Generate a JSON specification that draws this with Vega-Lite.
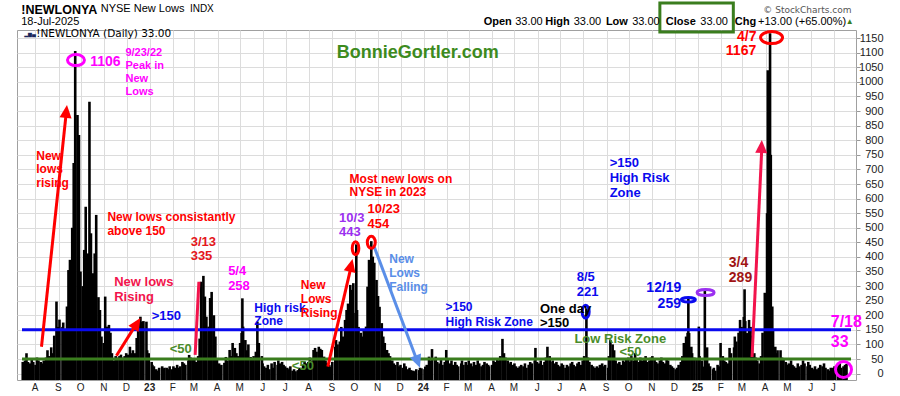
{
"$schema":"https://vega.github.io/schema/vega-lite/v6.json",
"width":839,"height":350,
"autosize":{"type":"none"},
"padding":{"left":17,"top":30,"right":44,"bottom":16},
"background":"white",
"config":{"view":{"stroke":"#a0a0a0","strokeWidth":1},"axis":{"labelFont":"Liberation Sans"}},
"datasets":{
"nl":[
{"d":"2022-07-15","v":40},{"d":"2022-07-18","v":45},{"d":"2022-07-20","v":70},{"d":"2022-07-22","v":40},
{"d":"2022-07-25","v":35},{"d":"2022-07-27","v":50},{"d":"2022-07-29","v":40},
{"d":"2022-08-01","v":30},{"d":"2022-08-03","v":55},{"d":"2022-08-05","v":45},
{"d":"2022-08-08","v":40},{"d":"2022-08-10","v":35},{"d":"2022-08-12","v":45},
{"d":"2022-08-15","v":55},{"d":"2022-08-17","v":80},{"d":"2022-08-19","v":60},
{"d":"2022-08-22","v":90},{"d":"2022-08-24","v":70},{"d":"2022-08-26","v":130},
{"d":"2022-08-29","v":247},{"d":"2022-08-31","v":160},{"d":"2022-09-02","v":185},
{"d":"2022-09-06","v":160},{"d":"2022-09-07","v":175},{"d":"2022-09-09","v":150},
{"d":"2022-09-12","v":230},{"d":"2022-09-14","v":355},{"d":"2022-09-16","v":390},
{"d":"2022-09-19","v":500},{"d":"2022-09-21","v":722},{"d":"2022-09-23","v":1106},
{"d":"2022-09-26","v":887},{"d":"2022-09-28","v":818},{"d":"2022-09-30","v":350},
{"d":"2022-10-03","v":300},{"d":"2022-10-05","v":424},{"d":"2022-10-07","v":572},
{"d":"2022-10-10","v":412},{"d":"2022-10-12","v":932},{"d":"2022-10-14","v":481},
{"d":"2022-10-17","v":344},{"d":"2022-10-19","v":412},{"d":"2022-10-21","v":544},
{"d":"2022-10-24","v":262},{"d":"2022-10-26","v":218},{"d":"2022-10-28","v":127},
{"d":"2022-10-31","v":105},{"d":"2022-11-02","v":264},{"d":"2022-11-04","v":161},
{"d":"2022-11-07","v":167},{"d":"2022-11-09","v":140},{"d":"2022-11-11","v":70},
{"d":"2022-11-14","v":45},{"d":"2022-11-16","v":60},{"d":"2022-11-18","v":55},
{"d":"2022-11-21","v":60},{"d":"2022-11-23","v":65},{"d":"2022-11-25","v":55},
{"d":"2022-11-28","v":60},{"d":"2022-11-30","v":70},{"d":"2022-12-02","v":65},
{"d":"2022-12-05","v":92},{"d":"2022-12-07","v":70},{"d":"2022-12-09","v":80},
{"d":"2022-12-12","v":70},{"d":"2022-12-14","v":122},{"d":"2022-12-16","v":173},
{"d":"2022-12-19","v":195},{"d":"2022-12-21","v":178},{"d":"2022-12-23","v":180},
{"d":"2022-12-27","v":178},{"d":"2022-12-28","v":80},{"d":"2022-12-30","v":70},
{"d":"2023-01-03","v":40},{"d":"2023-01-04","v":30},{"d":"2023-01-06","v":25},
{"d":"2023-01-09","v":15},{"d":"2023-01-11","v":10},{"d":"2023-01-13","v":20},
{"d":"2023-01-17","v":25},{"d":"2023-01-18","v":15},{"d":"2023-01-20","v":20},
{"d":"2023-01-23","v":20},{"d":"2023-01-25","v":15},{"d":"2023-01-27","v":25},
{"d":"2023-01-30","v":15},{"d":"2023-02-01","v":25},{"d":"2023-02-03","v":20},
{"d":"2023-02-06","v":30},{"d":"2023-02-08","v":20},{"d":"2023-02-10","v":25},
{"d":"2023-02-13","v":40},{"d":"2023-02-15","v":35},{"d":"2023-02-17","v":30},
{"d":"2023-02-21","v":45},{"d":"2023-02-22","v":64},{"d":"2023-02-24","v":55},
{"d":"2023-02-27","v":50},{"d":"2023-03-01","v":47},{"d":"2023-03-03","v":40},
{"d":"2023-03-06","v":60},{"d":"2023-03-08","v":120},{"d":"2023-03-10","v":315},
{"d":"2023-03-13","v":335},{"d":"2023-03-15","v":264},{"d":"2023-03-17","v":195},
{"d":"2023-03-20","v":161},{"d":"2023-03-22","v":259},{"d":"2023-03-24","v":280},
{"d":"2023-03-27","v":200},{"d":"2023-03-29","v":127},{"d":"2023-03-31","v":47},
{"d":"2023-04-03","v":35},{"d":"2023-04-05","v":25},{"d":"2023-04-06","v":30},
{"d":"2023-04-10","v":37},{"d":"2023-04-12","v":57},{"d":"2023-04-14","v":45},
{"d":"2023-04-17","v":81},{"d":"2023-04-19","v":60},{"d":"2023-04-21","v":105},
{"d":"2023-04-24","v":88},{"d":"2023-04-26","v":70},{"d":"2023-04-28","v":60},
{"d":"2023-05-01","v":105},{"d":"2023-05-03","v":139},{"d":"2023-05-04","v":258},{"d":"2023-05-05","v":161},
{"d":"2023-05-08","v":115},{"d":"2023-05-10","v":80},{"d":"2023-05-12","v":100},
{"d":"2023-05-15","v":57},{"d":"2023-05-17","v":47},{"d":"2023-05-19","v":60},
{"d":"2023-05-22","v":75},{"d":"2023-05-24","v":178},{"d":"2023-05-26","v":105},
{"d":"2023-05-30","v":60},{"d":"2023-05-31","v":35},{"d":"2023-06-02","v":25},
{"d":"2023-06-05","v":20},{"d":"2023-06-07","v":30},{"d":"2023-06-09","v":15},
{"d":"2023-06-12","v":35},{"d":"2023-06-14","v":20},{"d":"2023-06-16","v":40},
{"d":"2023-06-20","v":30},{"d":"2023-06-21","v":45},{"d":"2023-06-23","v":35},
{"d":"2023-06-26","v":40},{"d":"2023-06-28","v":30},{"d":"2023-06-30","v":25},
{"d":"2023-07-03","v":20},{"d":"2023-07-05","v":15},{"d":"2023-07-07","v":25},
{"d":"2023-07-10","v":10},{"d":"2023-07-12","v":15},{"d":"2023-07-14","v":8},
{"d":"2023-07-17","v":12},{"d":"2023-07-19","v":20},{"d":"2023-07-21","v":15},
{"d":"2023-07-24","v":30},{"d":"2023-07-26","v":40},{"d":"2023-07-28","v":35},
{"d":"2023-07-31","v":40},{"d":"2023-08-02","v":55},{"d":"2023-08-04","v":45},
{"d":"2023-08-07","v":81},{"d":"2023-08-09","v":88},{"d":"2023-08-11","v":75},
{"d":"2023-08-14","v":92},{"d":"2023-08-16","v":85},{"d":"2023-08-18","v":81},
{"d":"2023-08-21","v":58},{"d":"2023-08-23","v":45},{"d":"2023-08-25","v":35},
{"d":"2023-08-28","v":30},{"d":"2023-08-30","v":24},{"d":"2023-09-01","v":40},
{"d":"2023-09-05","v":92},{"d":"2023-09-06","v":115},{"d":"2023-09-08","v":100},
{"d":"2023-09-11","v":110},{"d":"2023-09-13","v":160},{"d":"2023-09-15","v":127},
{"d":"2023-09-18","v":184},{"d":"2023-09-20","v":218},{"d":"2023-09-22","v":240},
{"d":"2023-09-25","v":304},{"d":"2023-09-27","v":287},{"d":"2023-09-29","v":310},
{"d":"2023-10-02","v":208},{"d":"2023-10-03","v":443},{"d":"2023-10-04","v":218},{"d":"2023-10-06","v":160},
{"d":"2023-10-09","v":140},{"d":"2023-10-11","v":127},{"d":"2023-10-13","v":150},
{"d":"2023-10-16","v":161},{"d":"2023-10-18","v":298},{"d":"2023-10-20","v":390},
{"d":"2023-10-23","v":454},{"d":"2023-10-25","v":401},{"d":"2023-10-27","v":380},
{"d":"2023-10-30","v":321},{"d":"2023-11-01","v":266},{"d":"2023-11-03","v":229},
{"d":"2023-11-06","v":173},{"d":"2023-11-08","v":127},{"d":"2023-11-10","v":105},
{"d":"2023-11-13","v":81},{"d":"2023-11-15","v":70},{"d":"2023-11-17","v":60},
{"d":"2023-11-20","v":45},{"d":"2023-11-22","v":35},{"d":"2023-11-24","v":30},
{"d":"2023-11-27","v":40},{"d":"2023-11-29","v":25},{"d":"2023-12-01","v":30},
{"d":"2023-12-04","v":20},{"d":"2023-12-06","v":35},{"d":"2023-12-08","v":25},
{"d":"2023-12-11","v":15},{"d":"2023-12-13","v":20},{"d":"2023-12-15","v":12},
{"d":"2023-12-18","v":10},{"d":"2023-12-20","v":8},{"d":"2023-12-22","v":15},
{"d":"2023-12-26","v":12},{"d":"2023-12-27","v":20},{"d":"2023-12-29","v":18},
{"d":"2024-01-02","v":15},{"d":"2024-01-03","v":24},{"d":"2024-01-05","v":30},
{"d":"2024-01-08","v":58},{"d":"2024-01-10","v":45},{"d":"2024-01-12","v":84},
{"d":"2024-01-16","v":50},{"d":"2024-01-17","v":58},{"d":"2024-01-19","v":40},
{"d":"2024-01-22","v":35},{"d":"2024-01-24","v":47},{"d":"2024-01-26","v":30},
{"d":"2024-01-29","v":40},{"d":"2024-01-31","v":81},{"d":"2024-02-02","v":50},
{"d":"2024-02-05","v":35},{"d":"2024-02-07","v":45},{"d":"2024-02-09","v":30},
{"d":"2024-02-12","v":40},{"d":"2024-02-14","v":30},{"d":"2024-02-16","v":25},
{"d":"2024-02-20","v":35},{"d":"2024-02-21","v":45},{"d":"2024-02-23","v":30},
{"d":"2024-02-26","v":40},{"d":"2024-02-28","v":30},{"d":"2024-03-01","v":45},
{"d":"2024-03-04","v":35},{"d":"2024-03-06","v":25},{"d":"2024-03-08","v":40},
{"d":"2024-03-11","v":30},{"d":"2024-03-13","v":45},{"d":"2024-03-15","v":35},
{"d":"2024-03-18","v":25},{"d":"2024-03-20","v":30},{"d":"2024-03-22","v":40},
{"d":"2024-03-25","v":35},{"d":"2024-03-27","v":30},{"d":"2024-03-28","v":25},
{"d":"2024-04-01","v":30},{"d":"2024-04-03","v":45},{"d":"2024-04-05","v":40},
{"d":"2024-04-08","v":50},{"d":"2024-04-10","v":45},{"d":"2024-04-12","v":60},
{"d":"2024-04-15","v":119},{"d":"2024-04-17","v":70},{"d":"2024-04-19","v":55},
{"d":"2024-04-22","v":45},{"d":"2024-04-24","v":35},{"d":"2024-04-26","v":40},
{"d":"2024-04-29","v":30},{"d":"2024-05-01","v":35},{"d":"2024-05-03","v":25},
{"d":"2024-05-06","v":20},{"d":"2024-05-08","v":25},{"d":"2024-05-10","v":30},
{"d":"2024-05-13","v":25},{"d":"2024-05-15","v":35},{"d":"2024-05-17","v":20},
{"d":"2024-05-20","v":30},{"d":"2024-05-22","v":40},{"d":"2024-05-24","v":35},
{"d":"2024-05-28","v":45},{"d":"2024-05-29","v":88},{"d":"2024-05-31","v":40},
{"d":"2024-06-03","v":35},{"d":"2024-06-05","v":45},{"d":"2024-06-07","v":30},
{"d":"2024-06-10","v":40},{"d":"2024-06-12","v":55},{"d":"2024-06-14","v":92},
{"d":"2024-06-17","v":60},{"d":"2024-06-18","v":40},{"d":"2024-06-21","v":45},
{"d":"2024-06-24","v":35},{"d":"2024-06-26","v":40},{"d":"2024-06-28","v":30},
{"d":"2024-07-01","v":25},{"d":"2024-07-03","v":35},{"d":"2024-07-05","v":30},
{"d":"2024-07-08","v":20},{"d":"2024-07-10","v":30},{"d":"2024-07-12","v":25},
{"d":"2024-07-15","v":35},{"d":"2024-07-17","v":40},{"d":"2024-07-19","v":30},
{"d":"2024-07-22","v":25},{"d":"2024-07-24","v":35},{"d":"2024-07-26","v":40},
{"d":"2024-07-29","v":30},{"d":"2024-07-31","v":45},{"d":"2024-08-02","v":60},
{"d":"2024-08-05","v":221},{"d":"2024-08-07","v":55},{"d":"2024-08-09","v":40},
{"d":"2024-08-12","v":30},{"d":"2024-08-14","v":25},{"d":"2024-08-16","v":20},
{"d":"2024-08-19","v":25},{"d":"2024-08-21","v":20},{"d":"2024-08-23","v":30},
{"d":"2024-08-26","v":35},{"d":"2024-08-28","v":25},{"d":"2024-08-30","v":30},
{"d":"2024-09-03","v":20},{"d":"2024-09-04","v":60},{"d":"2024-09-06","v":115},
{"d":"2024-09-09","v":100},{"d":"2024-09-11","v":80},{"d":"2024-09-13","v":45},
{"d":"2024-09-16","v":35},{"d":"2024-09-18","v":40},{"d":"2024-09-20","v":30},
{"d":"2024-09-23","v":45},{"d":"2024-09-25","v":40},{"d":"2024-09-27","v":50},
{"d":"2024-09-30","v":55},{"d":"2024-10-02","v":40},{"d":"2024-10-04","v":60},
{"d":"2024-10-07","v":45},{"d":"2024-10-09","v":70},{"d":"2024-10-11","v":50},
{"d":"2024-10-14","v":40},{"d":"2024-10-16","v":55},{"d":"2024-10-18","v":45},
{"d":"2024-10-21","v":50},{"d":"2024-10-23","v":60},{"d":"2024-10-25","v":40},
{"d":"2024-10-28","v":45},{"d":"2024-10-30","v":55},{"d":"2024-11-01","v":60},
{"d":"2024-11-04","v":50},{"d":"2024-11-06","v":40},{"d":"2024-11-08","v":35},
{"d":"2024-11-11","v":45},{"d":"2024-11-13","v":55},{"d":"2024-11-15","v":40},
{"d":"2024-11-18","v":35},{"d":"2024-11-20","v":50},{"d":"2024-11-22","v":45},
{"d":"2024-11-25","v":30},{"d":"2024-11-27","v":25},{"d":"2024-11-29","v":20},
{"d":"2024-12-02","v":15},{"d":"2024-12-04","v":20},{"d":"2024-12-06","v":30},
{"d":"2024-12-09","v":40},{"d":"2024-12-11","v":60},{"d":"2024-12-13","v":105},
{"d":"2024-12-16","v":127},{"d":"2024-12-18","v":140},{"d":"2024-12-19","v":259},{"d":"2024-12-20","v":139},
{"d":"2024-12-23","v":92},{"d":"2024-12-24","v":70},{"d":"2024-12-27","v":55},
{"d":"2024-12-30","v":47},{"d":"2025-01-02","v":161},{"d":"2025-01-03","v":60},
{"d":"2025-01-06","v":45},{"d":"2025-01-08","v":24},{"d":"2025-01-10","v":283},
{"d":"2025-01-13","v":90},{"d":"2025-01-15","v":35},{"d":"2025-01-17","v":25},
{"d":"2025-01-21","v":15},{"d":"2025-01-22","v":20},{"d":"2025-01-24","v":10},
{"d":"2025-01-27","v":30},{"d":"2025-01-29","v":25},{"d":"2025-01-31","v":105},
{"d":"2025-02-03","v":60},{"d":"2025-02-05","v":45},{"d":"2025-02-07","v":40},
{"d":"2025-02-10","v":35},{"d":"2025-02-12","v":88},{"d":"2025-02-14","v":70},
{"d":"2025-02-18","v":90},{"d":"2025-02-19","v":127},{"d":"2025-02-21","v":110},
{"d":"2025-02-24","v":140},{"d":"2025-02-26","v":184},{"d":"2025-02-28","v":160},
{"d":"2025-03-03","v":194},{"d":"2025-03-04","v":289},{"d":"2025-03-05","v":180},{"d":"2025-03-07","v":139},
{"d":"2025-03-10","v":184},{"d":"2025-03-12","v":160},{"d":"2025-03-14","v":130},
{"d":"2025-03-17","v":70},{"d":"2025-03-19","v":55},{"d":"2025-03-21","v":45},
{"d":"2025-03-24","v":35},{"d":"2025-03-26","v":60},{"d":"2025-03-28","v":140},
{"d":"2025-03-31","v":277},{"d":"2025-04-02","v":139},{"d":"2025-04-03","v":550},{"d":"2025-04-04","v":1040},
{"d":"2025-04-07","v":1167},{"d":"2025-04-08","v":750},{"d":"2025-04-10","v":230},{"d":"2025-04-11","v":150},
{"d":"2025-04-14","v":92},{"d":"2025-04-16","v":70},{"d":"2025-04-17","v":80},
{"d":"2025-04-21","v":80},{"d":"2025-04-23","v":55},{"d":"2025-04-25","v":47},
{"d":"2025-04-28","v":40},{"d":"2025-04-30","v":30},{"d":"2025-05-02","v":35},
{"d":"2025-05-05","v":45},{"d":"2025-05-07","v":30},{"d":"2025-05-09","v":25},
{"d":"2025-05-12","v":20},{"d":"2025-05-14","v":35},{"d":"2025-05-16","v":25},
{"d":"2025-05-19","v":30},{"d":"2025-05-21","v":45},{"d":"2025-05-23","v":35},
{"d":"2025-05-27","v":25},{"d":"2025-05-28","v":40},{"d":"2025-05-30","v":30},
{"d":"2025-06-02","v":20},{"d":"2025-06-04","v":15},{"d":"2025-06-06","v":25},
{"d":"2025-06-09","v":15},{"d":"2025-06-11","v":20},{"d":"2025-06-13","v":30},
{"d":"2025-06-16","v":25},{"d":"2025-06-18","v":35},{"d":"2025-06-20","v":20},
{"d":"2025-06-23","v":15},{"d":"2025-06-25","v":10},{"d":"2025-06-27","v":20},
{"d":"2025-06-30","v":20},{"d":"2025-07-02","v":25},{"d":"2025-07-03","v":15},
{"d":"2025-07-07","v":30},{"d":"2025-07-09","v":35},{"d":"2025-07-11","v":20},
{"d":"2025-07-14","v":25},{"d":"2025-07-16","v":30},{"d":"2025-07-17","v":20},{"d":"2025-07-18","v":33}
],
"ann":[
{"t":"1106","d":"2022-10-13","v":1068,"g":"b","c":"mag"},
{"t":"9/23/22","d":"2022-11-29","v":1098,"g":"s","c":"mag"},
{"t":"Peak in","d":"2022-11-29","v":1055,"g":"s","c":"mag"},
{"t":"New","d":"2022-11-29","v":1010,"g":"s","c":"mag"},
{"t":"Lows","d":"2022-11-29","v":966,"g":"s","c":"mag"},
{"t":"New","d":"2022-08-02","v":746,"g":"n","c":"red"},
{"t":"lows","d":"2022-08-02","v":702,"g":"n","c":"red"},
{"t":"rising","d":"2022-08-02","v":655,"g":"n","c":"red"},
{"t":"New lows consistantly","d":"2022-11-05","v":538,"g":"n","c":"red"},
{"t":"above 150","d":"2022-11-05","v":490,"g":"n","c":"red"},
{"t":"New lows","d":"2022-11-14","v":315,"g":"l","c":"crim"},
{"t":"Rising","d":"2022-11-14","v":264,"g":"l","c":"crim"},
{"t":">150","d":"2023-01-03","v":198,"g":"l","c":"blue"},
{"t":"<50","d":"2023-01-27","v":85,"g":"l","c":"grn"},
{"t":"3/13","d":"2023-02-24","v":452,"g":"l","c":"red2"},
{"t":"335","d":"2023-02-24","v":404,"g":"l","c":"red2"},
{"t":"5/4","d":"2023-04-15","v":352,"g":"l","c":"mag"},
{"t":"258","d":"2023-04-15","v":301,"g":"l","c":"mag"},
{"t":"High risk","d":"2023-05-20","v":226,"g":"n","c":"blue"},
{"t":"Zone","d":"2023-05-20","v":181,"g":"n","c":"blue"},
{"t":"<50","d":"2023-07-09","v":26,"g":"l","c":"grn"},
{"t":"New","d":"2023-07-21","v":304,"g":"n","c":"red"},
{"t":"Lows","d":"2023-07-21","v":256,"g":"n","c":"red"},
{"t":"Rising","d":"2023-07-21","v":209,"g":"n","c":"red"},
{"t":"Most new lows on","d":"2023-09-24","v":667,"g":"n","c":"red"},
{"t":"NYSE in 2023","d":"2023-09-24","v":622,"g":"n","c":"red"},
{"t":"10/3","d":"2023-09-10","v":533,"g":"l","c":"pur"},
{"t":"443","d":"2023-09-10","v":487,"g":"l","c":"pur"},
{"t":"10/23","d":"2023-10-18","v":563,"g":"l","c":"red"},
{"t":"454","d":"2023-10-18","v":514,"g":"l","c":"red"},
{"t":"New","d":"2023-11-16","v":393,"g":"n","c":"corn"},
{"t":"Lows","d":"2023-11-16","v":346,"g":"n","c":"corn"},
{"t":"Falling","d":"2023-11-16","v":298,"g":"n","c":"corn"},
{"t":">150","d":"2024-01-30","v":230,"g":"n","c":"blue"},
{"t":"High Risk Zone","d":"2024-01-30","v":176,"g":"n","c":"blue"},
{"t":"One day","d":"2024-06-04","v":221,"g":"l","c":"blk"},
{"t":">150","d":"2024-06-04","v":173,"g":"l","c":"blk"},
{"t":"8/5","d":"2024-07-23","v":332,"g":"l","c":"blue"},
{"t":"221","d":"2024-07-23","v":281,"g":"l","c":"blue"},
{"t":">150","d":"2024-09-05","v":721,"g":"l","c":"blue"},
{"t":"High Risk","d":"2024-09-05","v":670,"g":"l","c":"blue"},
{"t":"Zone","d":"2024-09-05","v":618,"g":"l","c":"blue"},
{"t":"12/19","d":"2024-10-24","v":293,"g":"b","c":"blue"},
{"t":"259","d":"2024-11-08","v":238,"g":"b","c":"blue"},
{"t":"Low Risk Zone","d":"2024-07-20","v":119,"g":"l","c":"grn"},
{"t":"<50","d":"2024-09-18","v":73,"g":"l","c":"grn"},
{"t":"3/4","d":"2025-02-11","v":380,"g":"b","c":"dred"},
{"t":"289","d":"2025-02-11","v":327,"g":"b","c":"dred"},
{"t":"4/7","d":"2025-02-22","v":1155,"g":"b","c":"red"},
{"t":"1167","d":"2025-02-07","v":1106,"g":"b","c":"red"},
{"t":"7/18","d":"2025-06-27","v":178,"g":"h","c":"mag"},
{"t":"33","d":"2025-06-27","v":110,"g":"h","c":"mag"},
{"t":"BonnieGortler.com","d":"2023-09-07","v":1099,"g":"br","c":"brand"},
{"t":"!NEWLONYA","d":"2022-07-13","v":1248,"g":"t","c":"blk"},
{"t":"Open","d":"2024-03-21","v":1204,"g":"s","c":"blk"},
{"t":"High","d":"2024-06-11","v":1204,"g":"s","c":"blk"},
{"t":"Low","d":"2024-08-31","v":1204,"g":"s","c":"blk"},
{"t":"Close","d":"2024-11-19","v":1204,"g":"s","c":"blk"},
{"t":"Chg","d":"2025-02-19","v":1204,"g":"s","c":"blk"}
],
"annN":[
{"t":"NYSE New Lows","d":"2022-10-27","v":1249,"g":"hn","c":"blk"},
{"t":"INDX","d":"2023-02-23","v":1249,"g":"tn","c":"blk"},
{"t":"18-Jul-2025","d":"2022-07-13","v":1204,"g":"hn","c":"blk"},
{"t":"33.00","d":"2024-05-02","v":1204,"g":"hn","c":"blk"},
{"t":"33.00","d":"2024-07-19","v":1204,"g":"hn","c":"blk"},
{"t":"33.00","d":"2024-10-05","v":1204,"g":"hn","c":"blk"},
{"t":"33.00","d":"2025-01-04","v":1204,"g":"hn","c":"blk"},
{"t":"+13.00 (+65.00%)","d":"2025-03-22","v":1204,"g":"hn","c":"blk"},
{"t":"▲","d":"2025-07-17","v":1205,"g":"tri","c":"tgrn"}
],
"annD":[
{"t":"▂▆▄","d":"2022-07-17","v":1166,"g":"ic","c":"navy"},
{"t":"!NEWLONYA (Daily) 33.00","d":"2022-08-02","v":1164,"g":"dv","c":"blk"},
{"t":"© StockCharts.com","d":"2025-03-29","v":1248,"g":"cr","c":"gray"}
],
"ell":[
{"e":"pk","c":"mag","d":"2022-09-24","v":1075},
{"e":"o3","c":"red","d":"2023-10-02","v":430},
{"e":"o23","c":"red","d":"2023-10-23","v":450},
{"e":"a5","c":"blue","d":"2024-08-04","v":212},
{"e":"d19","c":"blue","d":"2024-12-19","v":253},
{"e":"j10","c":"pur","d":"2025-01-11","v":278},
{"e":"a7","c":"red","d":"2025-04-09","v":1152},
{"e":"j18","c":"mag","d":"2025-07-14","v":14}
],
"arl":[
{"c":"blue","d":"2022-07-14","v":150,"d2":"2025-07-24","v2":150},
{"c":"tgrn","d":"2022-07-14","v":50,"d2":"2025-07-24","v2":50},
{"c":"red","d":"2022-08-09","v":92,"d2":"2022-09-11","v2":894},
{"c":"red","d":"2022-11-17","v":61,"d2":"2022-12-13","v2":168},
{"c":"crim","d":"2023-03-02","v":64,"d2":"2023-03-07","v2":315},
{"c":"red","d":"2023-08-26","v":24,"d2":"2023-09-26","v2":366},
{"c":"corn","d":"2023-10-27","v":434,"d2":"2023-12-23","v2":45},
{"c":"crim","d":"2025-03-14","v":57,"d2":"2025-03-27","v2":774}
],
"hd":[
{"id":"h1","c":"red","d":"2022-09-12","v":921},
{"id":"h2","c":"red","d":"2022-12-19","v":191},
{"id":"h4","c":"red","d":"2023-09-28","v":393},
{"id":"h5","c":"corn","d":"2023-12-27","v":20},
{"id":"h6","c":"crim","d":"2025-03-27","v":801}
],
"box":[{"d":"2024-11-11","d2":"2025-02-17","v":1271,"v2":1171}]
},
"resolve":{"scale":{"color":"independent","shape":"independent"}},
"encoding":{
  "x":{"field":"d","type":"temporal","scale":{"type":"utc","domain":[{"year":2022,"month":7,"date":14,"utc":true},{"year":2025,"month":7,"date":24,"utc":true}]},
   "axis":{"orient":"bottom","title":null,"tickCount":{"interval":"month","step":1},
    "labelExpr":"utcmonth(datum.value)==0 ? utcFormat(datum.value,'%y') : slice(utcFormat(datum.value,'%b'),0,1)",
    "labelFontWeight":{"condition":{"test":"utcmonth(datum.value)==0","value":"bold"},"value":"normal"},
    "grid":true,"gridColor":"#dcdcdc","ticks":false,"tickSize":0,"domain":false,"labelPadding":2,"labelFontSize":10,"labelColor":"#222222","labelFlush":false,"labelOverlap":false,"labelOffset":-1,"labelBound":false}},
  "y":{"field":"v","type":"quantitative","scale":{"domain":[-22,1178],"nice":false,"zero":false},
   "axis":{"orient":"right","title":null,"values":[0,50,100,150,200,250,300,350,400,450,500,550,600,650,700,750,800,850,900,950,1000,1050,1100,1150],"format":"d","tickCount":24,
    "grid":true,"gridColor":"#dcdcdc","tickSize":4,"tickColor":"#999999","domain":false,"labelPadding":23,"labelAlign":"right","labelFontSize":11,"labelColor":"#222222","labelOverlap":false,"labelBound":false,"labelFlush":false}}
},
"layer":[
{"data":{"name":"nl"},
 "mark":{"type":"bar","width":2.6,"color":"#000000"},
 "encoding":{"y2":{"datum":-22}}},
{"data":{"name":"arl"},
 "mark":{"type":"rule","strokeWidth":3,"strokeCap":"butt"},
 "encoding":{
  "x2":{"field":"d2"},
  "y2":{"field":"v2"},
  "color":{"field":"c","type":"nominal","legend":null,"scale":{"domain":["mag","red","crim","red2","pur","blue","corn","grn","blk","dred","brand","gray","tgrn","navy"],"range":["#ff00ff","#ff0000","#f2144c","#e4161c","#9b30f0","#0a0aee","#5a8ee8","#4a8c2a","#000000","#a01414","#3d8b1e","#555555","#3a7d1e","#1a2a5a"]}}
 }},
{"data":{"name":"hd"},
 "mark":{"type":"point","filled":true,"size":4,"opacity":1,"strokeWidth":0},
 "encoding":{
  "shape":{"field":"id","type":"nominal","legend":null,"scale":{"domain":["h1","h2","h4","h5","h6"],"range":["M0,0L4.6,13.6L-7.4,12.3Z","M0,0L-1.9,14.2L-12,7.8Z","M0,0L2.9,14L-8.8,11.3Z","M0,0L-10.2,-10L1,-14.3Z","M0,0L5.4,13.3L-6.6,12.7Z"]}},
  "color":{"field":"c","type":"nominal","legend":null,"scale":{"domain":["mag","red","crim","red2","pur","blue","corn","grn","blk","dred","brand","gray","tgrn","navy"],"range":["#ff00ff","#ff0000","#f2144c","#e4161c","#9b30f0","#0a0aee","#5a8ee8","#4a8c2a","#000000","#a01414","#3d8b1e","#555555","#3a7d1e","#1a2a5a"]}}
 }},
{"data":{"name":"ell"},
 "mark":{"type":"point","filled":false,"size":4,"opacity":1,"strokeWidth":3},
 "encoding":{
  "shape":{"field":"e","type":"nominal","legend":null,"scale":{"domain":["pk","o3","o23","a5","d19","j10","a7","j18"],"range":[
   "M-8.5,0A8.5,5.5,0,1,1,8.5,0A8.5,5.5,0,1,1,-8.5,0Z",
   "M-3.3,0A3.3,6.5,0,1,1,3.3,0A3.3,6.5,0,1,1,-3.3,0Z",
   "M-4,0A4,6,0,1,1,4,0A4,6,0,1,1,-4,0Z",
   "M-3.5,0A3.5,6.5,0,1,1,3.5,0A3.5,6.5,0,1,1,-3.5,0Z",
   "M-7,0A7,2.2,0,1,1,7,0A7,2.2,0,1,1,-7,0Z",
   "M-8.5,0A8.5,3,0,1,1,8.5,0A8.5,3,0,1,1,-8.5,0Z",
   "M-11,0A11,6,0,1,1,11,0A11,6,0,1,1,-11,0Z",
   "M-8,0A8,8,0,1,1,8,0A8,8,0,1,1,-8,0Z"]}},
  "color":{"field":"c","type":"nominal","legend":null,"scale":{"domain":["mag","red","crim","red2","pur","blue","corn","grn","blk","dred","brand","gray","tgrn","navy"],"range":["#ff00ff","#ff0000","#f2144c","#e4161c","#9b30f0","#0a0aee","#5a8ee8","#4a8c2a","#000000","#a01414","#3d8b1e","#555555","#3a7d1e","#1a2a5a"]}}
 }},
{"data":{"name":"box"},
 "mark":{"type":"rect","fill":"transparent","stroke":"#3a7d1e","strokeWidth":3},
 "encoding":{"x2":{"field":"d2"},"y2":{"field":"v2"}}},
{"data":{"name":"ann"},
 "mark":{"type":"text","align":"left","baseline":"middle","font":"Liberation Sans","fontWeight":"bold"},
 "encoding":{
  "text":{"field":"t"},
  "size":{"condition":[{"test":"datum.g=='s'","value":11},{"test":"datum.g=='l'","value":13},{"test":"datum.g=='b'","value":14},{"test":"datum.g=='h'","value":16},{"test":"datum.g=='br'","value":18},{"test":"datum.g=='t'","value":12.5}],"value":12},
  "color":{"field":"c","type":"nominal","legend":null,"scale":{"domain":["mag","red","crim","red2","pur","blue","corn","grn","blk","dred","brand","gray","tgrn","navy"],"range":["#ff00ff","#ff0000","#f2144c","#e4161c","#9b30f0","#0a0aee","#5a8ee8","#4a8c2a","#000000","#a01414","#3d8b1e","#555555","#3a7d1e","#1a2a5a"]}}
 }},
{"data":{"name":"annN"},
 "mark":{"type":"text","align":"left","baseline":"middle","font":"Liberation Sans","fontWeight":"normal"},
 "encoding":{
  "text":{"field":"t"},
  "size":{"condition":[{"test":"datum.g=='tn'","value":10},{"test":"datum.g=='tri'","value":8}],"value":11},
  "color":{"field":"c","type":"nominal","legend":null,"scale":{"domain":["mag","red","crim","red2","pur","blue","corn","grn","blk","dred","brand","gray","tgrn","navy"],"range":["#ff00ff","#ff0000","#f2144c","#e4161c","#9b30f0","#0a0aee","#5a8ee8","#4a8c2a","#000000","#a01414","#3d8b1e","#555555","#3a7d1e","#1a2a5a"]}}
 }},
{"data":{"name":"annD"},
 "mark":{"type":"text","align":"left","baseline":"middle","font":"DejaVu Sans","fontWeight":"normal"},
 "encoding":{
  "text":{"field":"t"},
  "size":{"condition":[{"test":"datum.g=='cr'","value":9},{"test":"datum.g=='ic'","value":5}],"value":10.5},
  "color":{"field":"c","type":"nominal","legend":null,"scale":{"domain":["mag","red","crim","red2","pur","blue","corn","grn","blk","dred","brand","gray","tgrn","navy"],"range":["#ff00ff","#ff0000","#f2144c","#e4161c","#9b30f0","#0a0aee","#5a8ee8","#4a8c2a","#000000","#a01414","#3d8b1e","#555555","#3a7d1e","#1a2a5a"]}}
 }}
]
}
